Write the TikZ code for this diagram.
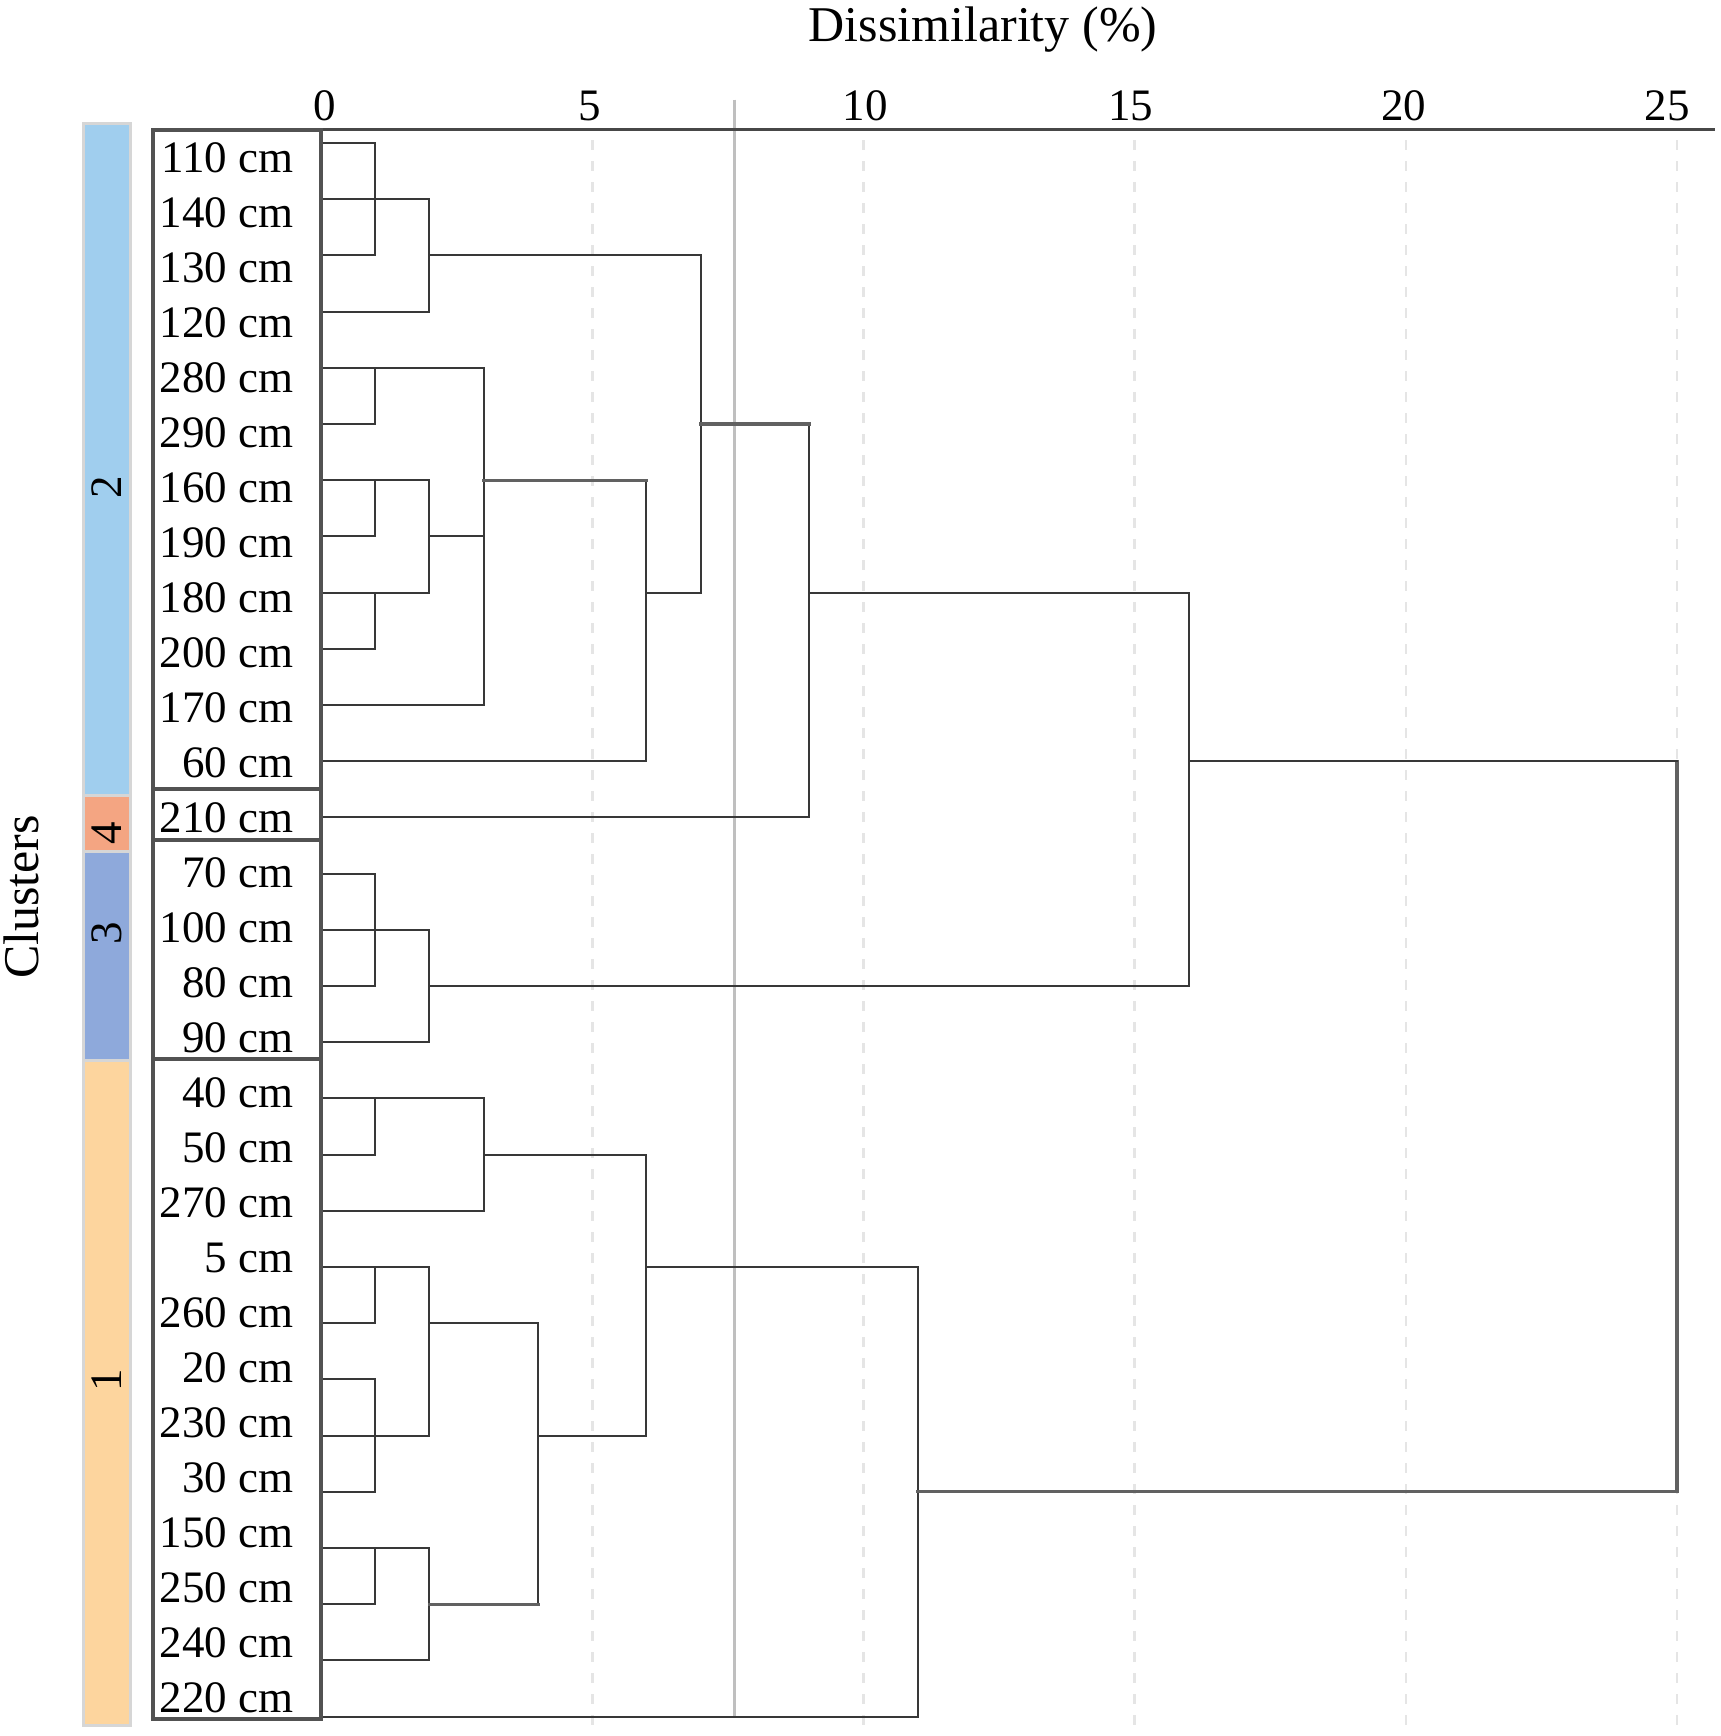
\documentclass[tikz,border=0pt]{standalone}
\usepackage{fontspec}
\setmainfont{Liberation Serif}
\definecolor{cA}{RGB}{253,213,158}
\definecolor{cB}{RGB}{160,206,238}
\definecolor{cC}{RGB}{142,169,219}
\definecolor{cD}{RGB}{244,165,130}
\begin{document}
\begin{tikzpicture}[x=0.5pt,y=-0.5pt,
  declare function={vx(\x)=321+54.24*\x; ly(\x)=143+56.2*\x;},
  dl/.style={draw=black!78, line width=1pt, line cap=rect},
  dlt/.style={draw=black!62, line width=1.6pt, line cap=rect},
  gridl/.style={draw=black!10, line width=1.3pt, dash pattern=on 5pt off 5.5pt},
  lbox/.style={draw=black!68, line width=1.8pt},
  bar/.style={draw=black!16, line width=1.5pt},
  txt/.style={font=\fontsize{22.5}{27}\selectfont, inner sep=0pt},
  big/.style={font=\fontsize{25}{30}\selectfont, inner sep=0pt}]
\useasboundingbox (0,0) rectangle (1720,1736);
% grid
\foreach \tk in {5,10,...,25}
  \draw[gridl] ({vx(\tk)},140) -- ({vx(\tk)},1730);
% cut line
\draw[draw=black!25, line width=1.5pt] (734,99.6) -- (734,1716);
% axis
\draw[draw=black!72, line width=1.5pt] (321,129.5) -- (1715,129.5);
\foreach \tk/\dx in {0/4,5/-2,10/2,15/-4,20/-2,25/-10}
  \node[txt, anchor=base] (tick\tk) at ({vx(\tk)+\dx},120) {\tk};
\node[big, anchor=base] (title) at (983,41) {Dissimilarity (\%)};
\node[big, rotate=90] (clus) at (21,897) {Clusters};
% cluster bars
\draw[bar, fill=cB] (83,123) rectangle (130,795);
\draw[bar, fill=cD] (83,795) rectangle (130,851);
\draw[bar, fill=cC] (83,851) rectangle (130,1060);
\draw[bar, fill=cA] (83,1060) rectangle (130,1725);
\node[txt, rotate=90] (k2) at (107,487) {2};
\node[txt, rotate=90] (k4) at (107,833) {4};
\node[txt, rotate=90] (k3) at (107,933) {3};
\node[txt, rotate=90] (k1) at (107,1380) {1};
% leaf lines
\foreach \e [count=\i from 0] in {1,2,1,2,3,1,2,1,2,1,3,6,9,1,2,1,2,3,1,3,2,1,1,2,1,2,1,2,11}
  \draw[dl] (321,{ly(\i)}) -- ({vx(\e)},{ly(\i)});
% verticals
\foreach \xx/\ya/\yb in {1/0/2, 2/1/3, 7/2/8, 1/4/5, 1/6/7, 1/8/9, 2/6/8, 3/4/10, 6/6/11, 9/5/12, 16/8/15,
  1/13/15, 2/14/16, 1/17/18, 3/17/19, 1/20/21, 2/20/23, 1/22/24, 1/25/26, 2/25/27, 4/21/26, 6/18/23, 11/20/28}
  \draw[dl] ({vx(\xx)},{ly(\ya)}) -- ({vx(\xx)},{ly(\yb)});
\draw[dlt] ({vx(25)},{ly(11)}) -- ({vx(25)},{ly(24)});
% horizontals
\foreach \yy/\xa/\xb in {2/2/7, 7/2/3, 8/6/7, 8/9/16, 15/2/16, 11/16/25, 18/3/6, 21/2/4, 23/4/6, 20/6/11}
  \draw[dl] ({vx(\xa)},{ly(\yy)}) -- ({vx(\xb)},{ly(\yy)});
\foreach \yy/\xa/\xb in {5/7/9, 6/3/6, 24/11/25, 26/2/4}
  \draw[dlt] ({vx(\xa)},{ly(\yy)}) -- ({vx(\xb)},{ly(\yy)});
% label boxes
\draw[lbox] (152.7,130) rectangle (321,789);
\draw[lbox] (152.7,789) rectangle (321,840);
\draw[lbox] (152.7,840) rectangle (321,1059);
\draw[lbox] (152.7,1059) rectangle (321,1719);
% labels
\foreach \lab [count=\i from 0] in {110,140,130,120,280,290,160,190,180,200,170,60,210,70,100,80,90,40,50,270,5,260,20,230,30,150,250,240,220}
  \node[txt, anchor=base east] (lab\i) at (294,{172.7+55*\i}) {\lab\ cm};
\end{tikzpicture}
\end{document}
